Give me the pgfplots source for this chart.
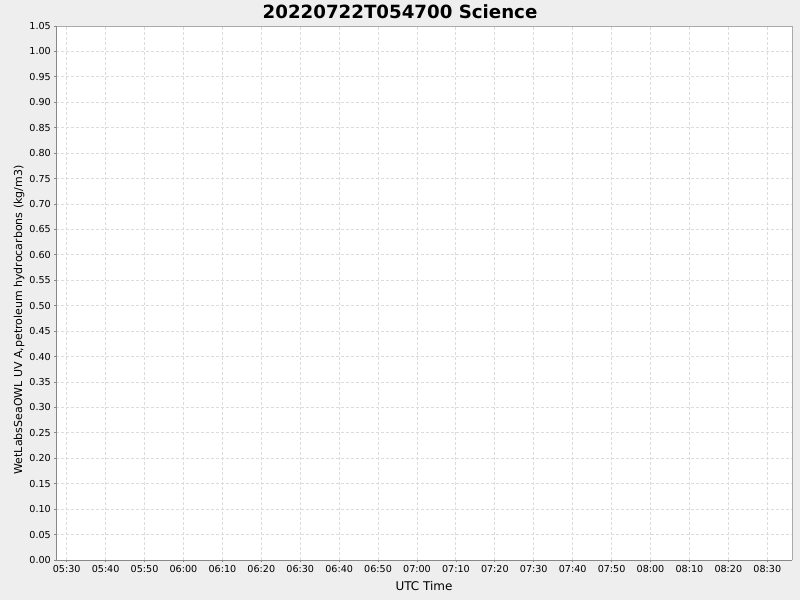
\documentclass[border=0pt]{standalone}
\usepackage{fontspec}
\setmainfont{DejaVu Sans}
\usepackage{pgfplots}
\pgfplotsset{compat=1.18}
\definecolor{pagebg}{HTML}{EEEEEE}
\definecolor{gridc}{HTML}{DCDCDC}
\definecolor{axisc}{HTML}{888888}
\definecolor{framec}{HTML}{AAAAAA}

\begin{document}
\begin{tikzpicture}[x=1pt,y=1pt]
 % page background, 800x600
 \fill[pagebg] (0,0) rectangle (800,600);
 \useasboundingbox (0,0) rectangle (800,600);
 %
 \begin{axis}[
   at={(56pt,40pt)}, anchor=south west,
   scale only axis, width=736pt, height=534pt,
   xmin=327.25, xmax=516.35,
   ymin=0, ymax=1.05,
   axis background/.style={fill=white},
   axis line style={draw=none},
   xtick={330,340,350,360,370,380,390,400,410,420,430,440,450,460,470,480,490,500,510},
   xticklabels={05:30,05:40,05:50,06:00,06:10,06:20,06:30,06:40,06:50,07:00,07:10,07:20,07:30,07:40,07:50,08:00,08:10,08:20,08:30},
   ytick={0,0.05,0.1,0.15,0.2,0.25,0.3,0.35,0.4,0.45,0.5,0.55,0.6,0.65,0.7,0.75,0.8,0.85,0.9,0.95,1.0,1.05},
   /pgf/number format/fixed,
   /pgf/number format/fixed zerofill,
   /pgf/number format/precision=2,
   /pgf/number format/assume math mode=true,
   grid=major,
   grid style={gridc, dash pattern=on 3pt off 2pt, line width=0.9pt},
   tick align=outside,
   major tick length=2pt,
   tick style={axisc, line width=0.8pt},
   xtick pos=bottom, ytick pos=left,
   ticklabel style={font=\fontsize{9.6}{9.6}\selectfont, black},
   yticklabel style={inner sep=0pt, xshift=-3pt},
   xticklabel style={inner sep=0pt, yshift=-3pt},
   clip=false,
 ]
 % frame: dark left/bottom, light top/right
 \draw[framec, line width=0.8pt] (rel axis cs:0,1) -- (rel axis cs:1,1) -- (rel axis cs:1,0);
 \draw[axisc, line width=1pt] (rel axis cs:0,1) -- (rel axis cs:0,0) -- (rel axis cs:1,0);
 \end{axis}
 %
 % title and axis labels
 \node[font=\fontsize{18.2}{18.2}\selectfont\bfseries] at (400,588) {20220722T054700 Science};
 \node[font=\fontsize{12}{12}\selectfont] at (424,14) {UTC Time};
 \node[font=\fontsize{11}{11}\selectfont, rotate=90] at (19,280) {WetLabsSeaOWL UV A,petroleum hydrocarbons (kg/m3)};
\end{tikzpicture}
\end{document}
